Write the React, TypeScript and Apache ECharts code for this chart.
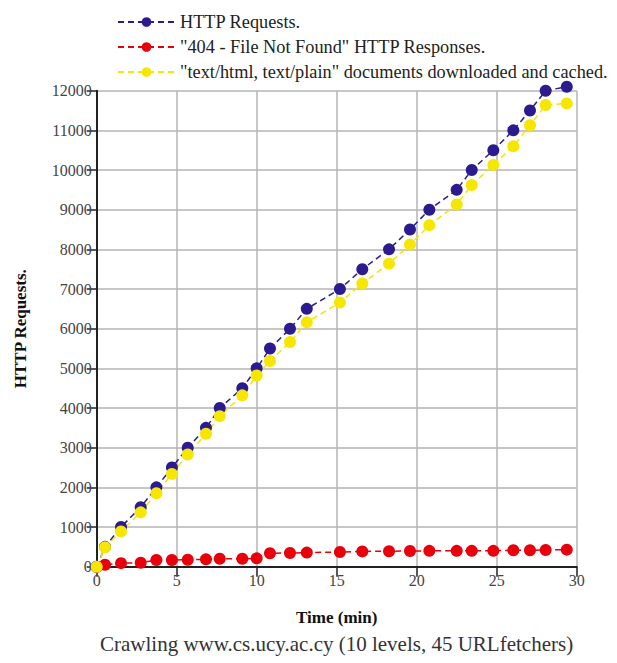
import React, { useEffect, useRef } from "react";
import * as echarts from "echarts";

const timeMin = [0, 0.52, 1.52, 2.75, 3.73, 4.7, 5.69, 6.83, 7.69, 9.1, 10.0, 10.83, 12.08, 13.13, 15.2, 16.6, 18.27, 19.58, 20.79, 22.5, 23.44, 24.79, 26.04, 27.08, 28.06, 29.38];
const httpRequests = [0, 500, 1000, 1500, 2000, 2500, 3000, 3500, 4000, 4500, 5000, 5500, 6000, 6500, 7000, 7500, 8000, 8500, 9000, 9500, 10000, 10500, 11000, 11500, 12000, 12100];
const notFound404 = [0, 50, 90, 100, 170, 170, 175, 185, 200, 200, 210, 340, 345, 355, 370, 385, 390, 395, 400, 400, 400, 400, 415, 415, 420, 430];
const docsCached = [0, 490, 890, 1370, 1850, 2340, 2830, 3350, 3795, 4320, 4820, 5185, 5665, 6160, 6660, 7140, 7640, 8120, 8610, 9130, 9620, 10130, 10600, 11130, 11640, 11680];

const seriesNames = [
  "HTTP Requests.",
  "\"404 - File Not Found\" HTTP Responses.",
  "\"text/html, text/plain\" documents downloaded and cached.",
];
const seriesColors = ["#2b1b8e", "#e8000b", "#f7e600"];
const xTicks = { min: 0, max: 30, interval: 5 };
const yTicks = { min: 0, max: 12000, interval: 1000 };
const xName = "Time (min)";
const yName = "HTTP Requests.";
const caption = "Crawling www.cs.ucy.ac.cy (10 levels, 45 URLfetchers)";

const SERIF = "'Liberation Serif', 'DejaVu Serif', serif";

export default function App() {
  const ref = useRef<HTMLDivElement>(null);
  useEffect(() => {
    if (!ref.current) return;
    const chart = echarts.init(ref.current, undefined, { renderer: "svg" });
    const datasets = [httpRequests, notFound404, docsCached];
    chart.setOption({
      animation: false,
      backgroundColor: "#ffffff",
      textStyle: { fontFamily: SERIF },
      legend: {
        orient: "vertical",
        left: 112,
        top: 7,
        itemWidth: 57,
        itemHeight: 12,
        itemGap: 5,
        textStyle: { fontFamily: SERIF, fontSize: 18.3, color: "#222", lineHeight: 20 },
        data: seriesNames,
      },
      grid: { left: 96.7, right: 40.3, top: 90.7, bottom: 96.3 },
      xAxis: {
        type: "value",
        min: xTicks.min,
        max: xTicks.max,
        interval: xTicks.interval,
        name: xName,
        nameLocation: "middle",
        nameGap: 42,
        nameTextStyle: { fontFamily: SERIF, fontSize: 17, fontWeight: "bold", color: "#111" },
        axisLine: { show: true, lineStyle: { color: "#222", width: 2 } },
        axisTick: { show: true, inside: false, length: 10, lineStyle: { color: "#222", width: 1.5 } },
        axisLabel: { fontFamily: SERIF, fontSize: 16, color: "#444", margin: 6 },
        splitLine: { show: true, lineStyle: { color: "#b4b4b4", width: 1.5 } },
      },
      yAxis: {
        type: "value",
        min: yTicks.min,
        max: yTicks.max,
        interval: yTicks.interval,
        name: yName,
        nameLocation: "middle",
        nameGap: 68,
        nameTextStyle: { fontFamily: SERIF, fontSize: 17, fontWeight: "bold", color: "#111" },
        axisLine: { show: true, lineStyle: { color: "#222", width: 2 } },
        axisTick: { show: true, inside: false, length: 10, lineStyle: { color: "#222", width: 1.5 } },
        axisLabel: { fontFamily: SERIF, fontSize: 16, color: "#444", margin: 5, formatter: (v: number) => String(v) },
        splitLine: { show: true, lineStyle: { color: "#b4b4b4", width: 1.5 } },
      },
      graphic: [
        {
          type: "text",
          left: 100,
          top: 633,
          style: { text: caption, fontFamily: SERIF, fontSize: 21, fill: "#333" },
        },
      ],
      series: datasets.map((vals, i) => ({
        name: seriesNames[i],
        type: "line",
        clip: false,
        symbol: "circle",
        symbolSize: 12,
        showSymbol: true,
        color: seriesColors[i],
        itemStyle: { color: seriesColors[i] },
        lineStyle: { color: seriesColors[i], width: 1.5, type: [6, 4] },
        data: timeMin.map((t, j) => [t, vals[j]]),
      })),
    });
    return () => chart.dispose();
  }, []);
  return <div ref={ref} style={{ position: "absolute", left: 0, top: 0, width: 617, height: 663 }} />;
}
